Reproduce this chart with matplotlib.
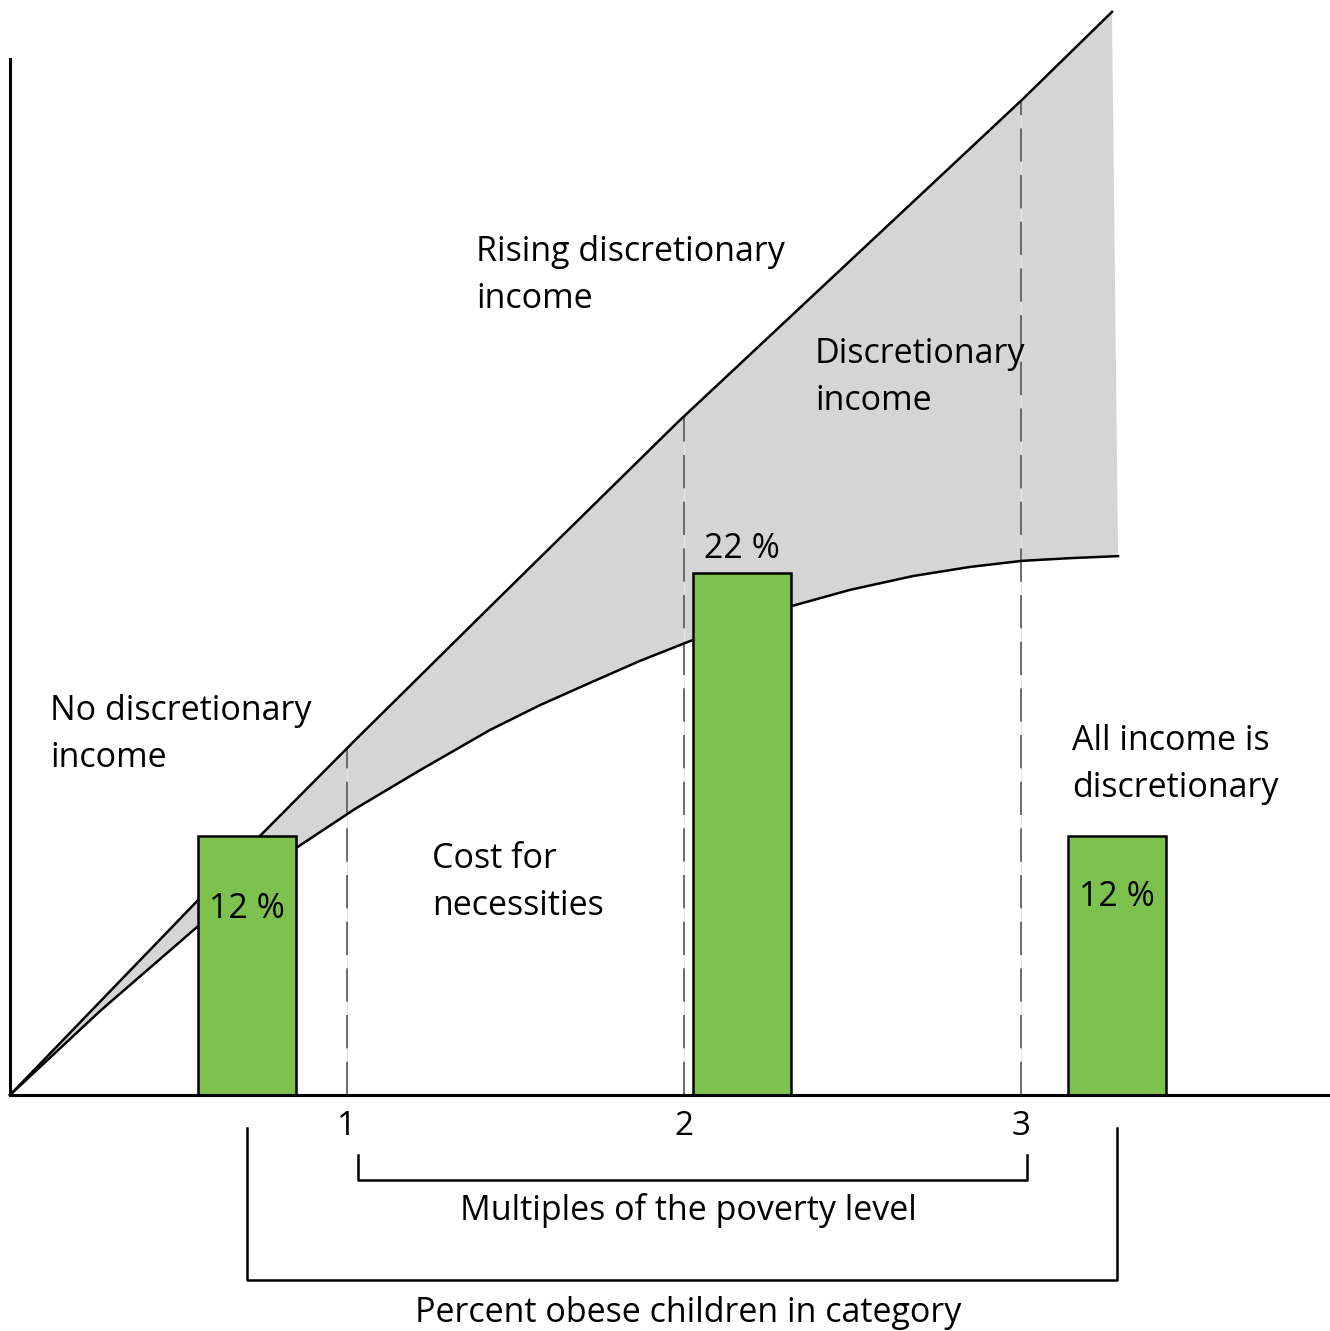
import numpy as np
import matplotlib
matplotlib.use("Agg")
import matplotlib.pyplot as plt

plt.rcParams['font.family'] = ['Open Sans', 'DejaVu Sans']

# income curves (x = multiples of the poverty level, y = income, schematic units)
upper_x = [0.0, 0.742, 1.024, 1.445, 1.982, 3.003, 3.270]
upper_y = [0.0, 0.769, 1.053, 1.469, 1.997, 2.953, 3.214]
lower_x = [0.0, 0.267, 0.558, 0.712, 0.849, 1.024, 1.217, 1.424, 1.573, 1.721,
           1.869, 2.018, 2.166, 2.320, 2.493, 2.680, 2.849, 3.003, 3.145, 3.288]
lower_y = [0.0, 0.249, 0.501, 0.628, 0.733, 0.849, 0.964, 1.083, 1.157, 1.223,
           1.288, 1.347, 1.401, 1.451, 1.499, 1.540, 1.567, 1.585, 1.593, 1.599]

poverty_ticks = [1, 2, 3]
tick_labels = ["1", "2", "3"]

# obese children bars
bar_x = [0.703, 2.172, 3.285]
bar_h = [0.77, 1.55, 0.77]
bar_labels = ["12 %", "22 %", "12 %"]

green = "#7dc24e"
gray = "#d5d5d5"

fig = plt.figure(figsize=(13.3, 13.31), dpi=100)
ax = fig.add_axes([10 / 1330, (1331 - 1095) / 1331, 1320 / 1330, (1095 - 59) / 1331])
ax.set_xlim(0, 1320 / 337)
ax.set_ylim(0, 1036 / 337)

for s in ["top", "right"]:
    ax.spines[s].set_visible(False)
for s in ["left", "bottom"]:
    ax.spines[s].set_linewidth(2.2)
    ax.spines[s].set_zorder(6)
ax.set_yticks([])
ax.set_xticks(poverty_ticks)
ax.set_xticklabels(tick_labels, fontsize=24)
ax.tick_params(axis="x", length=0, pad=11)

# shaded discretionary income
ax.fill(np.r_[upper_x, lower_x[::-1]], np.r_[upper_y, lower_y[::-1]],
        color=gray, lw=0, zorder=1, clip_on=False)
ax.plot(upper_x, upper_y, color="black", lw=1.8, zorder=3, clip_on=False)
ax.plot(lower_x, lower_y, color="black", lw=1.8, zorder=3, clip_on=False)

# dashed verticals at the poverty multiples
for t in poverty_ticks:
    top = np.interp(t, upper_x, upper_y)
    ax.plot([t, t], [0, top], color="#e2ead6", lw=0.8, zorder=2)
    ax.plot([t, t], [0, top], color="#555555", lw=1.2, dashes=(20, 8), zorder=2)

ax.bar(bar_x, bar_h, width=0.291, color=green, edgecolor="black", lw=1.8, zorder=4)

fs = 24.5
ax.text(bar_x[0], 0.525, bar_labels[0], ha="center", va="baseline", fontsize=fs, zorder=5)
ax.text(bar_x[1], 1.593, bar_labels[1], ha="center", va="baseline", fontsize=fs, zorder=5)
ax.text(bar_x[2], 0.561, bar_labels[2], ha="center", va="baseline", fontsize=fs, zorder=5)

# multi-line notes, anchored on the baseline of their last line
ls = 1.5
ax.text(1.383, 2.335, "Rising discretionary\nincome", va="baseline", fontsize=fs, linespacing=ls)
ax.text(2.389, 2.033, "Discretionary\nincome", va="baseline", fontsize=fs, linespacing=ls, zorder=5)
ax.text(0.119, 0.973, "No discretionary\nincome", va="baseline", fontsize=fs, linespacing=ls)
ax.text(3.151, 0.884, "All income is\ndiscretionary", va="baseline", fontsize=fs, linespacing=ls)
ax.text(1.252, 0.534, "Cost for\nnecessities", va="baseline", fontsize=fs, linespacing=ls)

# brackets below the axis
ax.plot([1.033, 1.033, 3.018, 3.018], [-0.178, -0.252, -0.252, -0.178],
        color="black", lw=1.8, clip_on=False)
ax.plot([bar_x[0], bar_x[0], bar_x[2], bar_x[2]], [-0.098, -0.549, -0.549, -0.098],
        color="black", lw=1.8, clip_on=False)
ax.text(2.012, -0.371, "Multiples of the poverty level", ha="center", va="baseline",
        fontsize=fs, clip_on=False)
ax.text(2.012, -0.674, "Percent obese children in category", ha="center", va="baseline",
        fontsize=fs, clip_on=False)

fig.savefig("out.png", dpi=100)
